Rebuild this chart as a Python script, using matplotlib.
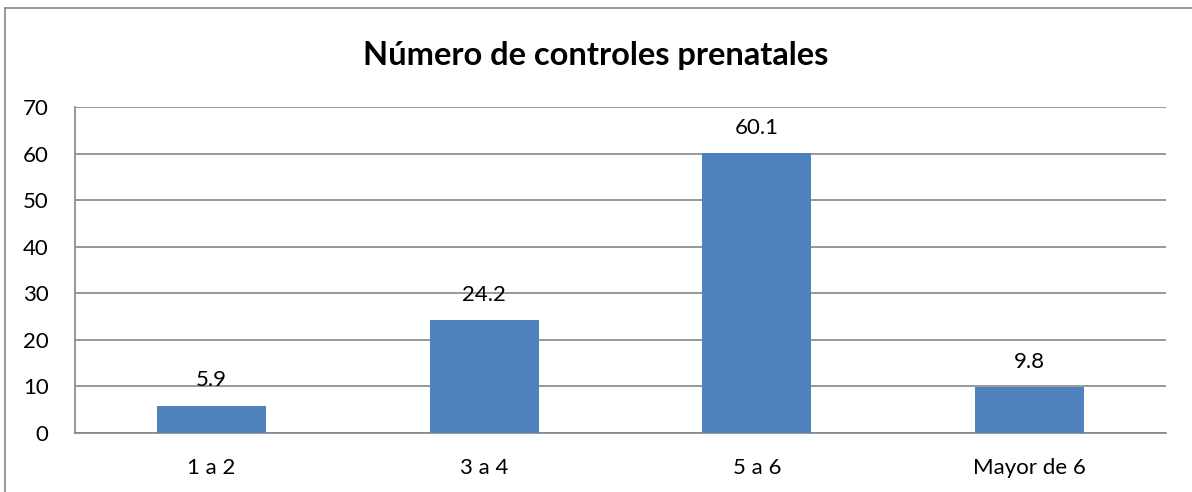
import matplotlib.pyplot as plt
from matplotlib.lines import Line2D

categories = ["1 a 2", "3 a 4", "5 a 6", "Mayor de 6"]
values = [5.9, 24.2, 60.1, 9.8]
yticks = [0, 10, 20, 30, 40, 50, 60, 70]

plt.rcParams['font.family'] = ['Lato', 'DejaVu Sans']

fig = plt.figure(figsize=(11.92, 4.92), dpi=100)
ax = fig.add_axes([75 / 1192, 59 / 492, 1091 / 1192, 326 / 492])

x = range(len(categories))
ax.bar(x, values, width=0.4, color="#4F81BD", zorder=3)

for xi, v in zip(x, values):
    ax.annotate(f"{v}", (xi, v), xytext=(0, 11), textcoords="offset points",
                ha="center", va="bottom", fontsize=16, color="#000000")

ax.set_xlim(-0.5, len(categories) - 0.5)
ax.set_ylim(0, 70)
ax.set_yticks(yticks)
ax.set_xticks(list(x))
ax.set_xticklabels(categories)
ax.tick_params(axis="both", length=0, labelsize=16, colors="#000000")
ax.tick_params(axis="y", pad=19)
ax.tick_params(axis="x", pad=18)

ax.grid(axis="y", color="#868686", linewidth=1.2, zorder=0)
for side in ["top", "right"]:
    ax.spines[side].set_visible(False)
for side in ["left", "bottom"]:
    ax.spines[side].set_color("#868686")
    ax.spines[side].set_linewidth(1.2)

fig.suptitle("Número de controles prenatales", x=0.5, y=1 - 55 / 492,
             va="center", fontsize=23.5, fontweight="bold")

# outer chart border (only left and top visible in the crop)
fig.add_artist(Line2D([5 / 1192, 5 / 1192], [0, 1 - 8 / 492], transform=fig.transFigure,
                      color="#868686", linewidth=1.2))
fig.add_artist(Line2D([5 / 1192, 1], [1 - 8 / 492, 1 - 8 / 492], transform=fig.transFigure,
                      color="#868686", linewidth=1.2))

fig.savefig("out.png", dpi=100)
